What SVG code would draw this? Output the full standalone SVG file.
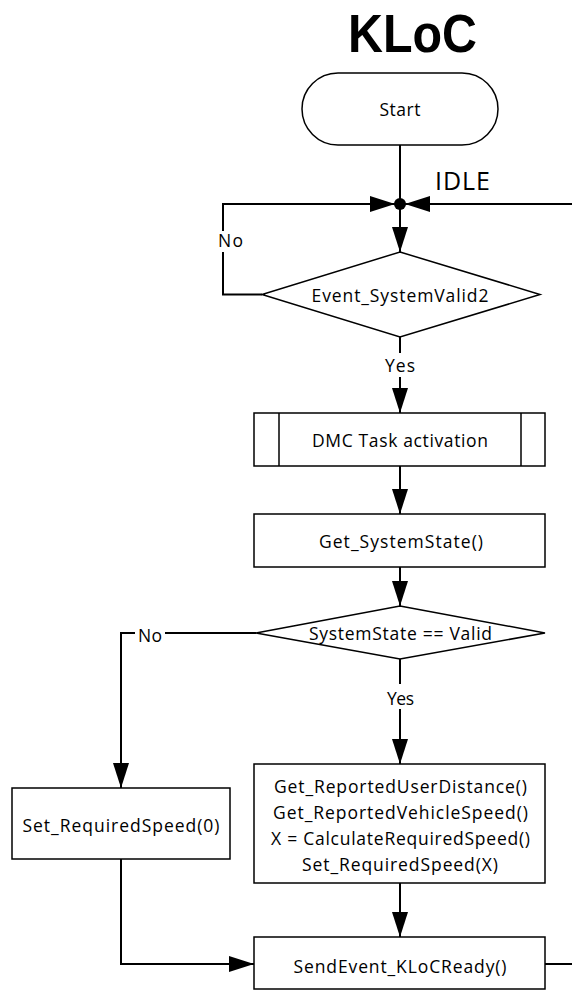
<svg xmlns="http://www.w3.org/2000/svg" width="572" height="990" viewBox="0 0 572 990">
<style>
  .shape { fill: #ffffff; stroke: #000000; stroke-width: 1.5; }
  .conn { fill: none; stroke: #000000; stroke-width: 2; }
  .lbl { font-family: "Open Sans", "Liberation Sans", sans-serif; font-size: 17.5px; fill: #000000; text-anchor: middle; }
  .bg { fill: #ffffff; stroke: none; }
</style>
<defs>
  <marker id="arr" viewBox="0 0 25 16" refX="25" refY="8" markerWidth="25" markerHeight="16" orient="auto" markerUnits="userSpaceOnUse">
    <path d="M0,0 L25,8 L0,16 z" fill="#000000"/>
  </marker>
</defs>
<rect x="0" y="0" width="572" height="990" fill="#ffffff"/>

<text id="title" x="412.5" y="52" font-family="'Liberation Sans', 'Open Sans', sans-serif" font-size="53" font-weight="bold" text-anchor="middle" textLength="129" lengthAdjust="spacingAndGlyphs">KLoC</text>

<g id="connectors">
  <path class="conn" d="M400,145 V204"/>
  <path class="conn" d="M400,204 V252" marker-end="url(#arr)"/>
  <path class="conn" d="M262,294.5 H223 V204 H395" marker-end="url(#arr)"/>
  <path class="conn" d="M572,204 H405" marker-end="url(#arr)"/>
  <path class="conn" d="M400,337 V413" marker-end="url(#arr)"/>
  <path class="conn" d="M400,466 V514" marker-end="url(#arr)"/>
  <path class="conn" d="M400,567 V606" marker-end="url(#arr)"/>
  <path class="conn" d="M256,633 H121 V788" marker-end="url(#arr)"/>
  <path class="conn" d="M400,659 V764" marker-end="url(#arr)"/>
  <path class="conn" d="M400,883 V937" marker-end="url(#arr)"/>
  <path class="conn" d="M121,859 V964 H254" marker-end="url(#arr)"/>
  <path class="conn" d="M545,964 H572"/>
  <circle cx="400" cy="204" r="6" fill="#000000"/>
  <g id="lbl-idle"><text x="462.5" y="190" font-family="'Open Sans', 'Liberation Sans', sans-serif" font-size="25" text-anchor="middle" textLength="55">IDLE</text></g>
  <g id="lbl-no1"><rect class="bg" x="213" y="231" width="31" height="21"/><text class="lbl" x="230.5" y="247" textLength="25">No</text></g>
  <g id="lbl-yes1"><rect class="bg" x="383" y="353" width="34" height="24"/><text class="lbl" x="400" y="372" textLength="30">Yes</text></g>
  <g id="lbl-no2"><rect class="bg" x="135" y="625" width="30" height="18"/><text class="lbl" x="150" y="642" textLength="24">No</text></g>
  <g id="lbl-yes2"><rect class="bg" x="384" y="684" width="33" height="25"/><text class="lbl" x="400.5" y="705" textLength="27">Yes</text></g>
</g>

<g id="start">
  <rect class="shape" x="302" y="73" width="196" height="72" rx="36" ry="36"/>
  <text class="lbl" x="400" y="116" textLength="41">Start</text>
</g>

<g id="event-systemvalid2">
  <polygon class="shape" points="400,252 540,294.5 400,337 262,294.5"/>
  <text class="lbl" x="400" y="302" textLength="177">Event_SystemValid2</text>
</g>

<g id="dmc-task">
  <rect class="shape" x="254" y="413" width="291" height="53"/>
  <line class="shape" x1="279" y1="413" x2="279" y2="466"/>
  <line class="shape" x1="521" y1="413" x2="521" y2="466"/>
  <text class="lbl" x="400" y="447" textLength="176">DMC Task activation</text>
</g>

<g id="get-systemstate">
  <rect class="shape" x="254" y="514" width="291" height="53"/>
  <text class="lbl" x="401" y="548" textLength="164">Get_SystemState()</text>
</g>

<g id="systemstate-valid">
  <polygon class="shape" points="400,606 545,633 400,659 256,633"/>
  <text class="lbl" x="400.5" y="640" textLength="183">SystemState == Valid</text>
</g>

<g id="set-speed-0">
  <rect class="shape" x="12" y="788" width="218" height="71"/>
  <text class="lbl" x="121" y="832" textLength="197">Set_RequiredSpeed(0)</text>
</g>

<g id="calc-speed">
  <rect class="shape" x="254" y="764" width="291" height="119"/>
  <text class="lbl" x="400.5" y="793" textLength="253">Get_ReportedUserDistance()</text>
  <text class="lbl" x="400.5" y="819" textLength="255">Get_ReportedVehicleSpeed()</text>
  <text class="lbl" x="400.5" y="845" textLength="259">X = CalculateRequiredSpeed()</text>
  <text class="lbl" x="400" y="871" textLength="196">Set_RequiredSpeed(X)</text>
</g>

<g id="send-event">
  <rect class="shape" x="254" y="937" width="291" height="52"/>
  <text class="lbl" x="400" y="973" textLength="213">SendEvent_KLoCReady()</text>
</g>
</svg>
